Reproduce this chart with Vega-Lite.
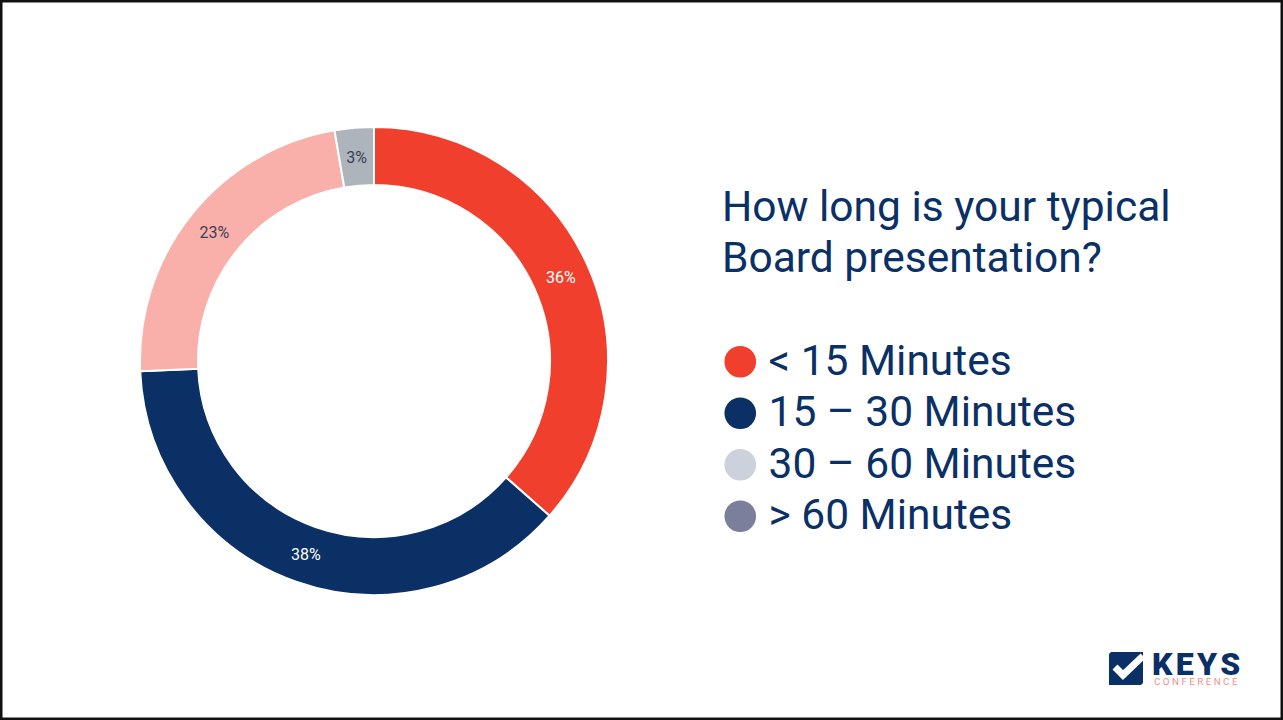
{
"$schema":"https://vega.github.io/schema/vega-lite/v6.json",
"width":1283,"height":720,"padding":0,"autosize":{"type":"none"},
"background":"#ffffff",
"config":{"view":{"stroke":"#111111","strokeWidth":5,"fill":"#ffffff"},"font":"Roboto"},
"datasets":{
"answers":[
{"answer":"< 15 Minutes","share":36.5,"label":"36%","rank":1},
{"answer":"15 – 30 Minutes","share":37.8,"label":"38%","rank":2},
{"answer":"30 – 60 Minutes","share":23.0,"label":"23%","rank":3},
{"answer":"> 60 Minutes","share":2.7,"label":"3%","rank":4}],
"badge":[{"x0":1109,"x1":1143,"y0":652,"y1":685}],
"tick":[{"px":1115,"py":667,"n":1},{"px":1123,"py":675,"n":2},{"px":1143,"py":656,"n":3}],
"word":[{"px":1152,"py":675,"t":"K\u200aE\u200aY\u200aS"}],
"sub":[{"px":1154,"py":685,"t":"C O N F E R E N C E"}]
},
"layer":[
{"data":{"name":"answers"},
 "mark":{"type":"point","filled":true,"opacity":0},
 "encoding":{
  "x":{"datum":374,"type":"quantitative","scale":{"domain":[0,1283]},"axis":null},
  "y":{"datum":361,"type":"quantitative","scale":{"domain":[0,720],"reverse":true},"axis":null},
  "color":{"field":"answer","type":"nominal","sort":["< 15 Minutes","15 – 30 Minutes","30 – 60 Minutes","> 60 Minutes"],
   "scale":{"domain":["< 15 Minutes","15 – 30 Minutes","30 – 60 Minutes","> 60 Minutes"],"range":["#f13f2e","#0a3066","#ccd2dc","#7c7f9b"]},
   "legend":{"orient":"none","legendX":722,"legendY":187,
    "title":["How long is your typical","Board presentation?"],
    "titleFont":"Roboto","titleFontSize":42.5,"titleFontWeight":"normal","titleColor":"#0a3066","titleLineHeight":51,"titlePadding":60,"titleLimit":600,
    "labelFont":"Roboto","labelFontSize":42.5,"labelColor":"#0a3066","labelLimit":600,"labelOffset":7,
    "symbolType":"circle","symbolSize":1000,"symbolOpacity":1,"symbolStrokeWidth":0,"symbolOffset":-3,"rowPadding":8.5,"offset":0}}
 }},
{"data":{"name":"answers"},
 "mark":{"type":"arc","outerRadius":234,"innerRadius":176,"stroke":"#ffffff","strokeWidth":2},
 "encoding":{
  "x":{"datum":374,"type":"quantitative","scale":{"domain":[0,1283]},"axis":null},
  "y":{"datum":361,"type":"quantitative","scale":{"domain":[0,720],"reverse":true},"axis":null},
  "theta":{"field":"share","type":"quantitative","stack":true},
  "order":{"field":"rank","type":"ordinal"},
  "color":{"field":"answer","type":"nominal","legend":null,
   "scale":{"domain":["< 15 Minutes","15 – 30 Minutes","30 – 60 Minutes","> 60 Minutes"],"range":["#f13f2e","#0a3066","#f9b0aa","#adb4bc"]}}
 }},
{"data":{"name":"answers"},
 "mark":{"type":"text","radius":205,"font":"Roboto","fontSize":16,"dy":1},
 "encoding":{
  "x":{"datum":374,"type":"quantitative","scale":{"domain":[0,1283]},"axis":null},
  "y":{"datum":361,"type":"quantitative","scale":{"domain":[0,720],"reverse":true},"axis":null},
  "theta":{"field":"share","type":"quantitative","stack":true},
  "order":{"field":"rank","type":"ordinal"},
  "text":{"field":"label"},
  "color":{"field":"answer","type":"nominal","legend":null,
   "scale":{"domain":["< 15 Minutes","15 – 30 Minutes","30 – 60 Minutes","> 60 Minutes"],"range":["#ffffff","#ffffff","#3a3f52","#3a3f52"]}}
 }},
{"data":{"name":"badge"},
 "mark":{"type":"rect","fill":"#0a3066","cornerRadiusTopLeft":3,"cornerRadiusBottomRight":3},
 "encoding":{
  "x":{"field":"x0","type":"quantitative","scale":{"domain":[0,1283]},"axis":null},"x2":{"field":"x1"},
  "y":{"field":"y0","type":"quantitative","scale":{"domain":[0,720],"reverse":true},"axis":null},"y2":{"field":"y1"}
 }},
{"data":{"name":"tick"},
 "mark":{"type":"line","stroke":"#ffffff","strokeWidth":7,"strokeCap":"butt","strokeJoin":"miter"},
 "encoding":{
  "x":{"field":"px","type":"quantitative","scale":{"domain":[0,1283]},"axis":null},
  "y":{"field":"py","type":"quantitative","scale":{"domain":[0,720],"reverse":true},"axis":null},
  "order":{"field":"n","type":"ordinal"}
 }},
{"data":{"name":"word"},
 "mark":{"type":"text","align":"left","baseline":"alphabetic","font":"Roboto","fontWeight":900,"fontSize":32,"fill":"#0a3066"},
 "encoding":{
  "x":{"field":"px","type":"quantitative","scale":{"domain":[0,1283]},"axis":null},
  "y":{"field":"py","type":"quantitative","scale":{"domain":[0,720],"reverse":true},"axis":null},
  "text":{"field":"t"}
 }},
{"data":{"name":"sub"},
 "mark":{"type":"text","align":"left","baseline":"alphabetic","font":"Roboto","fontSize":9.8,"fill":"#f58f88"},
 "encoding":{
  "x":{"field":"px","type":"quantitative","scale":{"domain":[0,1283]},"axis":null},
  "y":{"field":"py","type":"quantitative","scale":{"domain":[0,720],"reverse":true},"axis":null},
  "text":{"field":"t"}
 }}
],
"resolve":{"scale":{"color":"independent"}}
}
